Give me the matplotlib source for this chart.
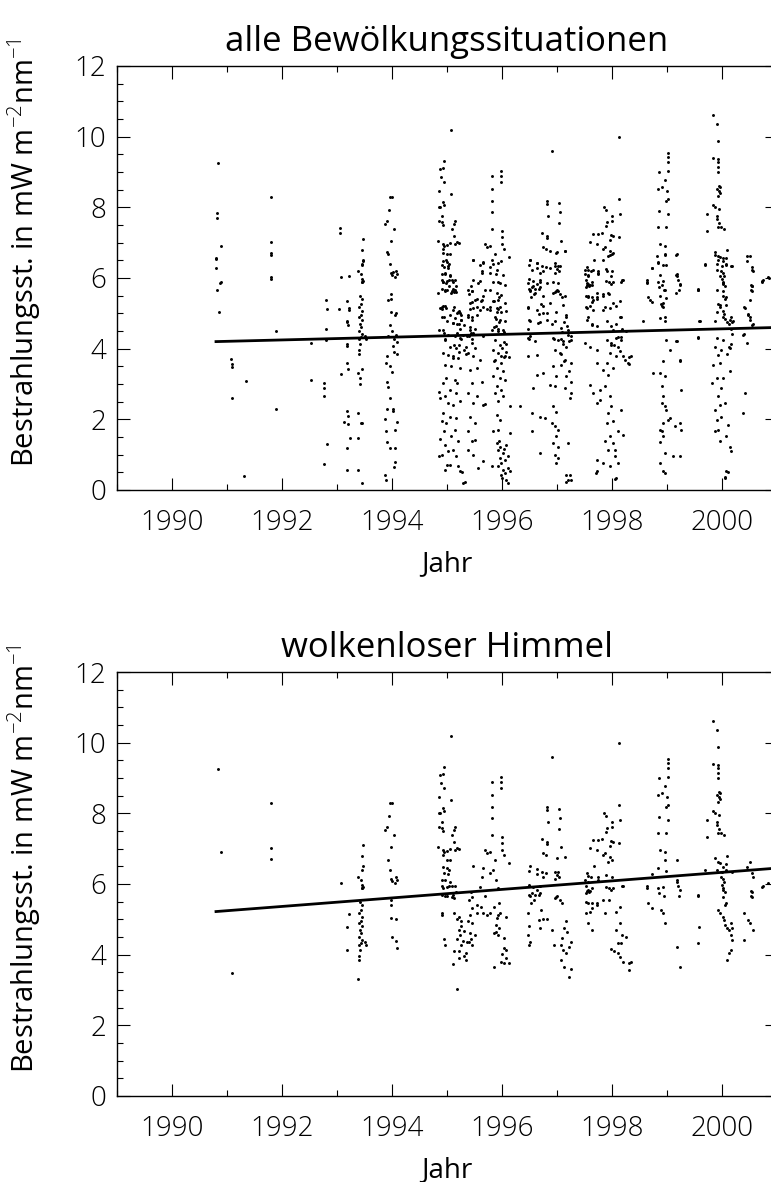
import matplotlib
matplotlib.use("Agg")
import matplotlib.pyplot as plt
from matplotlib.ticker import MultipleLocator
import numpy as np

plt.rcParams['font.family'] = ['Open Sans', 'DejaVu Sans']
plt.rcParams['font.weight'] = 'light'
plt.rcParams['mathtext.fontset'] = 'custom'
plt.rcParams['mathtext.rm'] = 'Open Sans:light'

# clear-sky measurements (year, irradiance mW m^-2 nm^-1) -- shown in both panels
klar_1990_1993 = [
    (1990.84, 9.26), (1990.89, 6.91), (1991.09, 3.48), (1991.80, 8.30), (1991.80, 7.03), (1991.80, 6.71),
    (1993.08, 6.04), (1993.22, 5.15), (1993.19, 4.79), (1993.18, 4.12), (1993.38, 3.31),
    (1993.47, 7.11), (1993.45, 6.80), (1993.47, 6.52), (1993.45, 6.40), (1993.38, 6.20), (1993.44, 6.12),
    (1993.45, 5.98), (1993.47, 5.92), (1993.45, 5.89), (1993.40, 3.85), (1993.40, 3.95), (1993.42, 4.14),
    (1993.40, 4.28), (1993.44, 4.33), (1993.45, 4.42), (1993.40, 4.51), (1993.44, 4.61), (1993.42, 4.70),
    (1993.45, 4.80), (1993.40, 4.89), (1993.44, 4.94), (1993.45, 5.08), (1993.40, 5.17), (1993.44, 5.27),
    (1993.45, 5.41), (1993.42, 5.48), (1993.53, 4.28), (1993.50, 4.37), (1993.45, 5.88),
]
klar_1994 = [
    (1993.96, 8.30), (1994.00, 8.30), (1993.95, 7.93), (1993.87, 7.54), (1993.91, 7.62), (1994.04, 7.39),
    (1993.98, 7.05), (1993.93, 6.69), (1993.96, 6.40), (1993.98, 6.15), (1994.07, 6.20), (1994.09, 6.12),
    (1994.05, 6.03), (1993.98, 5.55), (1993.98, 5.41), (1993.98, 5.03), (1994.07, 5.00), (1994.00, 4.50),
    (1994.07, 4.38), (1994.09, 4.19), (1994.00, 6.09),
]
klar_1995 = [
    (1995.07, 10.20), (1994.95, 9.32), (1994.87, 9.09), (1994.93, 9.12), (1994.89, 8.87), (1994.95, 8.73),
    (1994.85, 8.47), (1995.07, 8.39), (1994.93, 8.16), (1994.95, 8.07), (1994.85, 8.02), (1994.87, 8.00),
    (1994.91, 7.76), (1994.85, 7.62), (1994.91, 7.59), (1994.93, 7.51), (1995.15, 7.62), (1995.13, 7.54),
    (1995.09, 7.39), (1995.13, 7.20), (1994.84, 7.05), (1994.93, 6.97), (1994.95, 6.91), (1995.00, 6.94),
    (1995.05, 7.00), (1995.15, 6.97), (1995.18, 7.03), (1995.22, 7.00), (1994.93, 6.83), (1995.00, 6.69),
    (1995.05, 6.69), (1994.93, 6.49), (1995.00, 6.46), (1995.04, 6.40), (1994.95, 6.30), (1995.02, 6.29),
    (1994.91, 6.12), (1994.96, 6.10), (1995.05, 6.07), (1994.93, 5.89), (1995.00, 5.92), (1995.09, 5.95),
    (1995.00, 5.67), (1995.09, 5.64), (1995.11, 5.70), (1994.91, 5.93), (1994.91, 5.70), (1994.96, 5.65),
    (1994.91, 5.17), (1994.91, 5.12), (1994.95, 4.45), (1994.97, 4.28), (1995.04, 5.93), (1995.14, 5.93),
    (1995.16, 5.76), (1995.12, 5.60), (1995.13, 5.17), (1995.22, 5.08), (1995.19, 5.00), (1995.26, 4.94),
    (1995.25, 4.80), (1995.21, 4.70), (1995.30, 4.68), (1995.24, 4.56), (1995.19, 4.44), (1995.29, 4.39),
    (1995.37, 4.35), (1995.26, 4.28), (1995.21, 4.09), (1995.34, 4.06), (1995.13, 4.09), (1995.11, 3.74),
    (1995.21, 3.90), (1995.30, 3.95), (1995.19, 3.02), (1995.38, 4.96), (1995.46, 4.89), (1995.42, 4.61),
    (1995.50, 4.56), (1995.44, 4.44), (1995.40, 4.37), (1995.46, 4.28), (1995.34, 3.85), (1995.42, 5.13),
    (1995.54, 5.17), (1995.65, 5.17), (1995.73, 5.13), (1995.62, 5.36), (1995.46, 5.31), (1995.40, 5.55),
    (1995.54, 5.41), (1995.69, 5.65), (1995.47, 6.52), (1995.44, 5.78), (1995.45, 5.64), (1995.65, 6.46),
    (1995.64, 6.20), (1995.60, 5.92),
]
klar_1996 = [
    (1995.82, 8.90), (1995.82, 8.53), (1995.82, 8.19), (1995.82, 7.88), (1995.82, 7.39), (1995.78, 6.91),
    (1995.69, 6.97), (1995.73, 6.88), (1995.87, 6.69), (1995.84, 6.40), (1995.78, 6.32), (1995.89, 6.12),
    (1995.93, 5.89), (1995.98, 9.04), (1995.98, 8.90), (1995.98, 8.73), (1996.00, 7.34), (1996.00, 7.17),
    (1996.00, 6.97), (1996.04, 6.83), (1996.13, 6.60), (1995.79, 5.17), (1995.85, 5.36), (1995.94, 5.46),
    (1995.96, 5.17), (1995.93, 5.13), (1995.91, 5.03), (1996.08, 5.06), (1995.89, 4.84), (1995.94, 4.75),
    (1995.89, 4.65), (1995.85, 4.61), (1995.93, 4.56), (1996.04, 4.46), (1996.04, 4.19), (1996.08, 4.14),
    (1996.00, 4.02), (1996.07, 3.90), (1995.99, 3.80), (1996.04, 3.76), (1996.12, 3.76), (1995.85, 3.65),
]
klar_1997 = [
    (1996.91, 9.60), (1996.82, 8.19), (1996.82, 8.10), (1996.84, 7.76), (1997.04, 8.13), (1997.05, 7.88),
    (1997.04, 7.56), (1996.73, 7.28), (1996.82, 7.20), (1996.82, 7.14), (1997.07, 7.05), (1996.75, 6.88),
    (1996.80, 6.83), (1997.00, 6.74), (1997.15, 6.77), (1996.51, 6.52), (1996.49, 6.37), (1996.64, 6.43),
    (1996.73, 6.35), (1996.80, 6.32), (1996.64, 6.27), (1996.75, 6.20), (1996.96, 6.35), (1997.02, 6.35),
    (1997.00, 6.26), (1997.04, 6.20), (1996.96, 6.15), (1996.49, 5.98), (1996.56, 5.92), (1996.69, 5.95),
    (1996.49, 5.69), (1996.60, 5.69), (1996.69, 5.75), (1996.98, 5.64), (1996.96, 5.60), (1996.47, 5.17),
    (1996.49, 4.80), (1996.47, 4.56), (1996.51, 4.37), (1996.49, 4.28), (1996.53, 5.46), (1996.51, 5.65),
    (1996.55, 5.74), (1996.63, 5.84), (1996.67, 5.69), (1996.59, 5.55), (1996.71, 5.27), (1996.67, 4.98),
    (1996.75, 5.00), (1996.82, 5.00), (1996.69, 4.75), (1996.90, 4.70), (1996.94, 4.28), (1997.00, 5.65),
    (1997.05, 5.55), (1997.09, 5.46), (1997.17, 4.94), (1997.13, 4.75), (1997.19, 4.65), (1997.09, 4.46),
    (1997.08, 4.28), (1997.11, 4.14), (1997.21, 4.23), (1997.25, 4.37), (1997.08, 3.85), (1997.12, 3.65),
    (1997.21, 3.38), (1997.25, 3.59), (1997.17, 4.04),
]
klar_1998 = [
    (1998.13, 10.00), (1998.13, 8.24), (1998.15, 7.82), (1997.85, 8.02), (1997.89, 7.93), (1998.00, 7.76),
    (1998.00, 7.62), (1997.91, 7.59), (1997.89, 7.48), (1997.82, 7.28), (1997.75, 7.25), (1997.65, 7.25),
    (1997.98, 7.22), (1998.02, 7.20), (1997.96, 7.08), (1998.13, 7.17), (1997.60, 7.03), (1997.73, 6.97),
    (1997.84, 6.83), (1997.87, 6.88), (1997.96, 6.77), (1998.00, 6.69), (1997.93, 6.63), (1997.67, 6.52),
    (1997.55, 6.32), (1997.56, 6.23), (1997.62, 6.20), (1997.75, 6.20), (1997.89, 6.26), (1998.00, 6.20),
    (1997.51, 6.12), (1997.56, 6.06), (1997.64, 5.89), (1997.55, 5.81), (1997.58, 5.78), (1997.75, 6.12),
    (1997.89, 5.92), (1997.95, 5.89), (1998.02, 5.89), (1998.20, 5.95), (1997.52, 5.93), (1997.56, 5.84),
    (1997.52, 5.74), (1997.60, 5.79), (1997.52, 5.50), (1997.56, 5.46), (1997.64, 5.46), (1997.72, 5.46),
    (1997.64, 5.31), (1997.52, 5.17), (1997.60, 5.22), (1997.56, 4.89), (1997.64, 4.70), (1997.72, 5.41),
    (1997.83, 5.55), (1997.95, 5.55), (1997.87, 5.17), (1998.07, 5.22), (1998.15, 5.36), (1998.18, 5.93),
    (1997.99, 5.84), (1998.15, 4.89), (1998.07, 4.70), (1998.18, 4.56), (1998.17, 4.34), (1998.11, 4.33),
    (1997.99, 4.15), (1998.03, 4.09), (1998.11, 4.04), (1998.15, 3.93), (1998.20, 3.80), (1998.30, 3.76),
    (1998.30, 3.57), (1998.34, 3.80), (1998.26, 4.51),
]
klar_1999 = [
    (1999.02, 9.55), (1999.02, 9.43), (1999.02, 9.29), (1998.96, 8.78), (1999.02, 9.04), (1998.85, 9.00),
    (1998.84, 8.53), (1998.91, 8.58), (1999.00, 8.47), (1998.98, 8.19), (1999.02, 8.24), (1998.85, 7.90),
    (1999.02, 7.82), (1998.84, 7.45), (1998.98, 7.45), (1998.87, 6.97), (1998.96, 6.91), (1998.96, 6.69),
    (1999.18, 6.69), (1998.84, 6.46), (1998.98, 6.37), (1998.73, 6.29), (1999.18, 6.12), (1999.18, 6.06),
    (1998.64, 5.89), (1998.84, 5.89), (1998.93, 5.92), (1999.24, 5.84), (1999.56, 5.69), (1998.64, 5.93),
    (1998.65, 5.46), (1998.73, 5.31), (1998.85, 5.74), (1998.89, 5.27), (1998.93, 5.17), (1998.96, 4.89),
    (1998.95, 5.65), (1999.20, 5.93), (1999.21, 5.67), (1999.18, 4.23), (1999.23, 3.65), (1999.57, 5.67),
    (1999.58, 4.77), (1999.57, 4.34),
]
klar_2000 = [
    (1999.84, 10.60), (1999.91, 10.37), (1999.93, 9.89), (1999.84, 9.40), (1999.93, 9.38), (1999.93, 9.29),
    (1999.93, 9.15), (1999.93, 9.00), (1999.95, 8.61), (1999.96, 8.58), (1999.91, 8.53), (1999.95, 8.47),
    (1999.96, 8.41), (1999.93, 8.33), (1999.84, 8.07), (1999.87, 8.02), (1999.95, 7.96), (1999.91, 7.76),
    (1999.73, 7.82), (1999.73, 7.34), (1999.91, 7.68), (1999.95, 7.56), (1999.98, 7.45), (1999.93, 7.45),
    (2000.04, 7.39), (1999.87, 6.74), (1999.93, 6.63), (1999.96, 6.60), (2000.02, 6.49), (2000.07, 6.57),
    (2000.09, 6.80), (1999.69, 6.40), (1999.91, 6.40), (2000.00, 6.35), (2000.07, 6.40), (2000.18, 6.35),
    (1999.98, 6.20), (2000.02, 6.15), (2000.04, 6.06), (2000.00, 5.98), (2000.02, 5.89), (2000.05, 5.78),
    (2000.02, 5.64), (1999.93, 5.27), (1999.97, 5.17), (2000.01, 5.08), (2000.05, 5.41), (2000.07, 5.46),
    (2000.03, 4.98), (2000.05, 4.84), (2000.09, 4.75), (2000.13, 4.70), (2000.17, 4.89), (2000.19, 4.75),
    (2000.17, 4.56), (2000.19, 4.42), (2000.17, 4.14), (2000.13, 4.04), (2000.09, 3.85), (2000.01, 5.84),
    (2000.51, 6.63), (2000.45, 6.49), (2000.55, 6.32), (2000.56, 6.20), (2000.55, 5.78), (2000.55, 5.64),
    (2000.73, 5.92), (2000.40, 5.17), (2000.48, 4.98), (2000.50, 4.89), (2000.52, 5.65), (2000.53, 5.79),
    (2000.56, 4.70), (2000.40, 4.42), (2000.75, 5.93), (2000.83, 6.03),
]

# additional measurements with clouds -- only in the upper panel
wolkig_1990_1994 = [
    (1990.82, 7.85), (1990.82, 7.70), (1990.80, 6.57), (1990.80, 6.54), (1990.80, 6.29), (1990.89, 5.90),
    (1990.87, 5.85), (1990.82, 5.67), (1990.85, 5.04), (1991.07, 3.70), (1991.09, 3.57), (1991.35, 3.09),
    (1991.09, 2.60), (1991.31, 0.40), (1991.80, 6.66), (1991.80, 6.03), (1991.80, 5.97), (1991.89, 4.50),
    (1991.89, 2.30), (1992.53, 4.16), (1992.53, 3.12), (1992.80, 5.38), (1992.82, 5.13), (1992.80, 4.56),
    (1992.80, 4.25), (1992.76, 3.03), (1992.76, 2.89), (1992.76, 2.66), (1992.82, 1.30), (1992.76, 0.74),
    (1993.05, 7.42), (1993.05, 7.28), (1993.22, 6.06), (1993.04, 5.12), (1993.18, 5.35), (1993.22, 5.10),
    (1993.18, 4.76), (1993.20, 4.67), (1993.18, 4.08), (1993.07, 3.29), (1993.18, 3.60), (1993.20, 3.43),
    (1993.18, 2.24), (1993.20, 2.10), (1993.13, 1.93), (1993.20, 1.87), (1993.24, 1.47), (1993.18, 1.19),
    (1993.18, 0.57), (1993.38, 0.57), (1993.38, 2.18), (1993.38, 1.47), (1993.44, 1.90), (1993.45, 1.90),
    (1993.45, 0.20), (1993.42, 3.17), (1993.42, 3.00), (1993.45, 3.42), (1993.47, 6.49), (1993.45, 6.37),
    (1993.89, 3.60), (1993.91, 3.80), (1993.96, 3.50), (1994.00, 3.33), (1993.91, 3.06), (1993.93, 2.92),
    (1993.96, 2.60), (1993.91, 2.30), (1994.02, 2.30), (1994.02, 2.24), (1993.87, 2.00), (1994.09, 1.93),
    (1994.05, 1.70), (1993.89, 1.66), (1993.91, 1.37), (1993.96, 1.20), (1994.05, 1.20), (1994.05, 0.79),
    (1994.04, 0.65), (1993.87, 0.43), (1993.89, 0.29), (1994.02, 4.07), (1994.04, 3.90), (1994.09, 3.85),
    (1993.92, 5.38), (1994.05, 4.96), (1993.97, 4.67), (1993.93, 4.35), (1994.04, 4.27), (1993.91, 6.74),
    (1994.02, 6.18),
]
wolkig_1995 = [
    (1994.93, 6.71), (1994.99, 6.52), (1994.90, 6.38), (1995.02, 6.33), (1994.96, 6.14), (1995.05, 6.09),
    (1994.93, 5.90), (1994.99, 5.86), (1995.11, 5.90), (1995.04, 5.76), (1995.14, 5.67), (1994.96, 5.62),
    (1995.08, 5.57), (1995.17, 5.59), (1994.92, 5.20), (1994.99, 5.15), (1995.11, 5.10), (1995.20, 5.05),
    (1994.94, 4.91), (1995.05, 4.96), (1995.14, 4.87), (1995.23, 5.01), (1995.00, 4.77), (1995.11, 4.74),
    (1995.19, 4.71), (1995.26, 4.82), (1994.92, 4.54), (1995.02, 4.39), (1995.14, 4.35), (1995.23, 4.30),
    (1994.96, 4.25), (1995.05, 4.06), (1995.17, 4.02), (1994.93, 3.88), (1995.02, 3.83), (1995.11, 3.78),
    (1995.20, 3.73), (1994.96, 3.55), (1995.08, 3.50), (1995.23, 3.45), (1994.99, 3.17), (1995.14, 3.12),
    (1994.93, 3.03), (1995.05, 2.84), (1995.17, 2.74), (1994.96, 2.65), (1995.02, 2.46), (1995.11, 2.41),
    (1995.23, 2.51), (1994.93, 2.18), (1995.05, 2.08), (1995.17, 2.04), (1994.99, 1.89), (1995.14, 1.71),
    (1994.94, 1.66), (1995.08, 1.52), (1995.20, 1.38), (1994.96, 1.28), (1995.11, 1.14), (1995.02, 1.09),
    (1994.90, 1.00), (1995.17, 0.95), (1995.05, 0.72), (1995.20, 0.67), (1994.96, 0.57), (1995.23, 0.53),
    (1995.29, 0.20), (1995.32, 0.24), (1994.85, 2.78), (1994.87, 2.60), (1994.90, 1.95), (1994.88, 1.45),
    (1994.86, 0.95), (1995.00, 0.70), (1994.84, 5.58), (1994.87, 5.15), (1994.96, 5.20), (1994.91, 4.90),
    (1995.10, 4.73), (1994.85, 4.53), (1995.27, 0.50),
    (1995.39, 5.67), (1995.45, 5.62), (1995.51, 5.38), (1995.42, 5.29), (1995.48, 5.15), (1995.63, 5.38),
    (1995.66, 5.48), (1995.39, 4.91), (1995.45, 4.82), (1995.54, 4.96), (1995.60, 5.10), (1995.42, 4.54),
    (1995.48, 4.44), (1995.66, 4.35), (1995.45, 4.16), (1995.51, 4.02), (1995.39, 3.88), (1995.48, 3.78),
    (1995.60, 3.69), (1995.42, 3.40), (1995.54, 3.45), (1995.63, 3.07), (1995.45, 3.03), (1995.39, 2.74),
    (1995.54, 2.65), (1995.48, 2.46), (1995.66, 2.41), (1995.42, 2.08), (1995.51, 1.89), (1995.39, 1.66),
    (1995.45, 1.38), (1995.51, 1.42), (1995.39, 1.14), (1995.48, 1.00), (1995.66, 0.81), (1995.57, 0.62),
    (1995.48, 6.52), (1995.60, 6.38), (1995.66, 6.42), (1995.63, 6.14), (1995.48, 5.95), (1995.57, 5.86),
]
wolkig_1996 = [
    (1995.81, 6.52), (1995.93, 6.42), (1995.99, 6.47), (1995.78, 6.14), (1995.90, 6.23), (1996.02, 6.09),
    (1995.84, 5.90), (1995.96, 5.86), (1996.05, 5.81), (1995.78, 5.67), (1995.90, 5.57), (1995.99, 5.53),
    (1995.84, 5.34), (1995.93, 5.38), (1996.05, 5.29), (1995.78, 5.10), (1995.90, 5.15), (1995.99, 5.05),
    (1995.87, 4.91), (1995.96, 4.82), (1996.05, 4.77), (1995.81, 4.54), (1995.93, 4.49), (1996.02, 4.54),
    (1995.87, 4.25), (1995.96, 4.11), (1995.84, 3.97), (1995.93, 3.88), (1996.05, 3.78), (1995.87, 3.69),
    (1995.99, 3.59), (1995.90, 3.45), (1996.02, 3.36), (1995.84, 3.22), (1995.96, 3.17), (1996.05, 3.12),
    (1995.90, 2.93), (1995.99, 2.84), (1995.87, 2.74), (1996.02, 2.65), (1995.93, 2.51), (1996.14, 2.37),
    (1995.90, 2.13), (1995.96, 1.99), (1995.84, 1.66), (1995.93, 1.71), (1996.14, 1.61), (1995.90, 1.33),
    (1995.96, 1.23), (1996.08, 1.28), (1995.93, 1.14), (1996.02, 1.05), (1995.96, 0.90), (1996.05, 0.86),
    (1996.11, 0.95), (1995.93, 0.67), (1996.02, 0.57), (1996.14, 0.53), (1995.99, 0.43), (1996.08, 0.29),
    (1996.11, 0.20), (1995.81, 0.67), (1996.32, 2.39), (1995.69, 2.44), (1996.00, 0.35), (1996.06, 0.48),
    (1995.98, 0.75), (1996.10, 0.62), (1996.04, 1.15), (1995.95, 1.40),
]
wolkig_1997 = [
    (1996.51, 6.52), (1996.63, 6.42), (1996.54, 6.23), (1996.69, 6.14), (1996.87, 6.28), (1996.96, 6.42),
    (1997.05, 6.33), (1997.14, 6.75), (1996.87, 6.75), (1996.99, 6.71), (1996.48, 5.86), (1996.57, 5.76),
    (1996.69, 5.90), (1996.81, 5.86), (1996.93, 5.90), (1997.02, 5.86), (1996.51, 5.62), (1996.60, 5.57),
    (1996.75, 5.48), (1996.93, 5.57), (1997.02, 5.62), (1997.14, 5.48), (1996.48, 5.15), (1996.63, 5.10),
    (1996.75, 5.20), (1996.87, 5.29), (1996.99, 5.05), (1997.11, 5.24), (1996.51, 4.77), (1996.66, 4.72),
    (1996.81, 4.82), (1996.96, 4.77), (1997.17, 4.91), (1997.08, 4.58), (1997.20, 4.54),
    (1996.48, 4.30), (1996.60, 4.21), (1996.93, 4.30), (1997.02, 4.25), (1997.11, 4.21), (1997.20, 4.39),
    (1997.26, 4.25), (1996.48, 3.78), (1996.63, 3.83), (1996.96, 3.97), (1997.05, 3.88), (1997.14, 3.69),
    (1996.93, 3.50), (1997.08, 3.55), (1996.63, 3.26), (1996.75, 3.31), (1996.99, 3.22), (1997.17, 3.22),
    (1997.26, 3.07), (1996.87, 2.98), (1996.96, 2.93), (1997.14, 2.88), (1997.26, 2.74), (1997.23, 2.60),
    (1996.57, 2.88), (1996.54, 2.18), (1996.69, 2.08), (1996.78, 2.04), (1996.93, 2.37), (1996.99, 2.22),
    (1996.90, 1.89), (1996.96, 1.80), (1997.02, 1.71), (1996.99, 1.52), (1996.93, 1.33), (1997.02, 1.23),
    (1997.20, 1.33), (1996.69, 1.05), (1996.96, 1.00), (1997.02, 0.90), (1996.99, 0.76), (1997.17, 0.43),
    (1997.20, 0.29), (1996.54, 1.66), (1997.24, 0.42), (1997.25, 0.28), (1997.16, 0.22),
]
wolkig_1998 = [
    (1997.51, 6.23), (1997.57, 6.09), (1997.66, 6.23), (1997.75, 6.14), (1997.84, 6.52), (1997.96, 6.66),
    (1998.02, 6.71), (1997.90, 6.19), (1997.99, 6.05), (1998.17, 5.90), (1997.54, 5.86), (1997.63, 5.81),
    (1997.72, 5.57), (1997.57, 5.48), (1997.66, 5.38), (1997.84, 5.48), (1997.93, 5.57), (1998.02, 5.29),
    (1997.54, 5.15), (1997.66, 5.10), (1997.84, 5.10), (1997.96, 5.15), (1997.54, 4.82), (1997.63, 4.68),
    (1997.72, 4.63), (1997.90, 4.77), (1997.99, 4.63), (1998.17, 4.91), (1998.02, 4.54),
    (1997.51, 4.16), (1997.60, 4.06), (1997.72, 3.97), (1997.90, 4.25), (1997.99, 4.11), (1998.08, 4.30),
    (1998.17, 4.25), (1997.96, 3.88), (1998.08, 3.78), (1998.23, 3.69), (1998.29, 3.59), (1997.90, 3.59),
    (1998.02, 3.45), (1997.93, 3.26), (1997.84, 3.40), (1997.72, 3.59), (1997.60, 2.98), (1997.66, 2.74),
    (1997.78, 2.84), (1997.87, 2.93), (1997.96, 2.65), (1997.72, 2.46), (1997.78, 2.55), (1997.93, 2.18),
    (1997.99, 2.37), (1998.17, 2.27), (1997.90, 1.89), (1998.02, 1.94), (1998.11, 1.66), (1997.96, 1.52),
    (1997.87, 1.38), (1998.02, 1.33), (1998.20, 1.56), (1997.93, 1.14), (1998.05, 1.14), (1997.72, 0.86),
    (1997.84, 0.76), (1997.96, 0.67), (1998.05, 0.95), (1998.11, 0.76), (1997.72, 0.53), (1998.05, 0.31),
    (1998.08, 0.34), (1997.71, 0.48),
]
wolkig_1999 = [
    (1998.63, 5.86), (1998.72, 6.28), (1998.81, 6.61), (1998.84, 6.42), (1998.87, 6.09), (1998.93, 6.38),
    (1998.96, 6.66), (1999.17, 6.66), (1998.90, 5.81), (1998.96, 5.67), (1998.87, 5.48), (1998.93, 5.29),
    (1998.90, 5.20), (1998.99, 5.43), (1999.17, 6.09), (1999.23, 5.81), (1999.17, 5.57), (1998.69, 5.38),
    (1998.87, 4.87), (1998.96, 4.77), (1998.57, 4.77), (1998.99, 4.25), (1999.05, 3.97), (1998.93, 3.64),
    (1998.87, 3.31), (1998.96, 3.22), (1998.90, 2.93), (1998.93, 2.65), (1998.96, 2.37), (1998.90, 2.46),
    (1998.99, 2.27), (1998.93, 1.89), (1999.02, 1.99), (1998.87, 1.71), (1998.90, 1.66), (1998.93, 1.52),
    (1998.87, 1.35), (1999.23, 1.89), (1999.26, 1.71), (1999.14, 1.80), (1998.96, 1.05), (1998.87, 0.76),
    (1998.93, 0.53), (1998.96, 0.48), (1999.11, 0.97), (1999.23, 0.97), (1999.26, 2.84), (1999.23, 3.69),
    (1999.17, 4.21), (1998.75, 3.31), (1999.05, 2.04),
]
wolkig_2000 = [
    (1999.69, 6.38), (1999.87, 6.66), (1999.93, 6.52), (2000.02, 6.56), (2000.08, 6.38), (2000.17, 6.33),
    (1999.90, 6.23), (1999.96, 6.05), (2000.02, 5.86), (1999.90, 5.67), (2000.02, 5.48), (1999.96, 5.24),
    (2000.08, 5.24), (1999.90, 5.05), (2000.02, 4.91), (2000.14, 4.82), (2000.20, 4.77), (1999.87, 4.77),
    (1999.57, 5.67), (1999.60, 4.77), (1999.90, 4.30), (2000.02, 4.25), (1999.87, 4.06), (2000.14, 4.02),
    (1999.99, 3.97), (1999.93, 3.83), (1999.84, 3.55), (1999.96, 3.59), (2000.14, 3.36), (1999.90, 3.17),
    (2000.02, 3.17), (1999.81, 3.03), (1999.99, 2.88), (1999.93, 2.65), (2000.05, 2.46), (1999.96, 2.41),
    (1999.87, 2.27), (1999.90, 1.99), (1999.99, 2.08), (2000.11, 1.85), (1999.93, 1.71), (1999.87, 1.66),
    (2000.08, 1.52), (1999.96, 1.38), (2000.14, 1.23), (2000.17, 1.09), (2000.08, 0.53), (2000.05, 0.34),
    (1999.57, 4.30), (2000.39, 2.18), (2000.42, 2.74), (2000.05, 0.37), (2000.11, 0.51),
    (2000.45, 6.61), (2000.54, 6.23), (2000.42, 5.15), (2000.51, 5.38), (2000.54, 5.76), (2000.48, 4.96),
    (2000.51, 4.82), (2000.54, 4.68), (2000.39, 4.39), (2000.45, 4.16), (2000.72, 5.90), (2000.85, 6.00),
]

# linear trends
trend_jahre = [1990.8, 2001.0]
trend_alle = [4.2, 4.6]
trend_klar = [5.22, 6.45]

klar = (klar_1990_1993 + klar_1994 + klar_1995 + klar_1996 + klar_1997
        + klar_1998 + klar_1999 + klar_2000)
wolkig = (wolkig_1990_1994 + wolkig_1995 + wolkig_1996 + wolkig_1997
          + wolkig_1998 + wolkig_1999 + wolkig_2000)
alle = klar + wolkig

W, H = 771, 1182
fig = plt.figure(figsize=(W / 100, H / 100), dpi=100)

ax_top = fig.add_axes([117 / W, 1 - 490 / H, 660 / W, 424 / H])
ax_bot = fig.add_axes([117 / W, 1 - 1096 / H, 660 / W, 424 / H])

panels = [
    (ax_top, alle, trend_alle, "alle Bewölkungssituationen"),
    (ax_bot, klar, trend_klar, "wolkenloser Himmel"),
]

for ax, pts, trend, title in panels:
    xs = np.array([p[0] for p in pts])
    ys = np.array([p[1] for p in pts])
    ax.scatter(xs, ys, s=4.5, c="black", marker="o", linewidths=0)
    ax.plot(trend_jahre, trend, color="black", linewidth=2.0)

    ax.set_xlim(1989, 2001)
    ax.set_ylim(0, 12)
    ax.xaxis.set_major_locator(MultipleLocator(2))
    ax.xaxis.set_minor_locator(MultipleLocator(1))
    ax.yaxis.set_major_locator(MultipleLocator(2))
    ax.yaxis.set_minor_locator(MultipleLocator(0.5))
    ax.set_xticks([1990, 1992, 1994, 1996, 1998, 2000])
    ax.tick_params(which="both", direction="in", top=True, right=True, width=0.8,
                   labelsize=20, colors="black")
    ax.tick_params(which="major", length=9)
    ax.tick_params(which="minor", length=4.5)
    ax.tick_params(axis="x", which="major", pad=14)
    ax.tick_params(axis="y", which="major", pad=8)
    for sp in ax.spines.values():
        sp.set_linewidth(1.0)

    labels = ax.get_yticklabels()
    labels[0].set_verticalalignment("bottom")
    labels[-1].set_verticalalignment("top")

    ax.set_title(title, fontsize=25, pad=11)
    ax.set_xlabel("Jahr", fontsize=20, labelpad=9)
    ax.set_ylabel("Bestrahlungsst. in mW m$^{-2}$nm$^{-1}$", fontsize=21)
    ax.yaxis.set_label_coords(-0.112, 0.56)

fig.savefig("out.png", dpi=100)
